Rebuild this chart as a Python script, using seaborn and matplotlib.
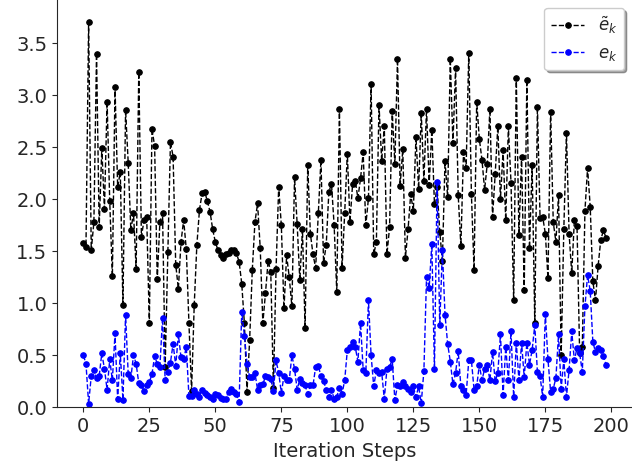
import numpy as np
import pandas as pd
import matplotlib
matplotlib.use("Agg")
import matplotlib.pyplot as plt
import seaborn as sns

# values (one point per iteration step)
e_tilde = [
    1.58, 1.54, 3.70, 1.51, 1.78, 3.40, 1.73, 2.49, 1.91, 2.94,
    1.98, 1.26, 3.08, 2.12, 2.26, 0.98, 2.86, 2.35, 1.70, 1.87,
    1.33, 3.22, 1.64, 1.80, 1.83, 0.81, 2.68, 2.51, 1.23, 1.78,
    1.87, 0.39, 1.49, 2.55, 2.41, 1.37, 1.14, 1.59, 1.80, 1.52,
    0.81, 0.16, 0.98, 1.56, 1.90, 2.06, 2.07, 1.98, 1.88, 1.71,
    1.59, 1.51, 1.46, 1.44, 1.47, 1.48, 1.51, 1.51, 1.48, 1.40,
    1.19, 0.81, 0.15, 0.65, 1.32, 1.78, 1.96, 1.53, 0.81, 1.10,
    1.41, 1.30, 0.19, 1.33, 2.12, 1.75, 0.95, 1.46, 1.25, 0.97,
    2.21, 1.76, 1.22, 1.71, 0.76, 2.33, 1.67, 1.47, 1.34, 1.87,
    2.38, 1.39, 1.56, 2.07, 2.15, 1.75, 1.11, 2.87, 1.34, 1.87,
    2.44, 1.78, 2.15, 2.18, 2.01, 2.20, 2.45, 1.75, 2.01, 3.11,
    1.47, 1.59, 2.91, 2.37, 2.70, 1.47, 1.73, 2.85, 2.34, 3.35,
    2.13, 2.48, 1.44, 1.71, 2.05, 1.89, 2.60, 2.10, 2.83, 2.18,
    2.87, 2.14, 2.67, 1.95, 2.12, 1.69, 1.41, 2.37, 2.02, 3.35,
    2.54, 3.26, 2.04, 1.55, 2.45, 2.30, 3.41, 2.05, 1.32, 2.94,
    2.58, 2.38, 2.09, 2.34, 2.87, 1.83, 2.24, 2.70, 2.00, 2.47,
    1.80, 2.70, 2.16, 1.03, 3.17, 1.66, 2.41, 1.13, 3.15, 1.53,
    2.33, 0.81, 2.89, 1.82, 1.83, 1.67, 1.24, 2.84, 1.78, 1.59,
    2.04, 0.50, 1.71, 2.64, 1.67, 1.29, 1.80, 1.74, 0.52, 0.58,
    1.89, 2.30, 1.93, 1.21, 1.03, 1.36, 1.61, 1.70, 1.63,
]

e_k = [
    0.50, 0.42, 0.035, 0.30, 0.36, 0.28, 0.30, 0.52, 0.37, 0.17,
    0.46, 0.26, 0.71, 0.08, 0.52, 0.07, 0.89, 0.32, 0.28, 0.50,
    0.42, 0.23, 0.21, 0.16, 0.21, 0.24, 0.32, 0.49, 0.42, 0.39,
    0.86, 0.26, 0.34, 0.43, 0.61, 0.40, 0.70, 0.48, 0.46, 0.58,
    0.11, 0.11, 0.17, 0.13, 0.10, 0.17, 0.14, 0.12, 0.10, 0.08,
    0.13, 0.12, 0.09, 0.08, 0.08, 0.15, 0.18, 0.15, 0.13, 0.05,
    0.92, 0.69, 0.42, 0.29, 0.29, 0.33, 0.17, 0.21, 0.22, 0.30,
    0.29, 0.27, 0.16, 0.45, 0.33, 0.14, 0.30, 0.26, 0.26, 0.50,
    0.37, 0.17, 0.27, 0.23, 0.21, 0.13, 0.21, 0.21, 0.39, 0.40,
    0.30, 0.25, 0.17, 0.10, 0.17, 0.08, 0.10, 0.19, 0.13, 0.26,
    0.55, 0.58, 0.63, 0.58, 0.44, 0.81, 0.36, 0.33, 1.03, 0.50,
    0.20, 0.36, 0.33, 0.34, 0.08, 0.37, 0.39, 0.46, 0.07, 0.21,
    0.20, 0.24, 0.20, 0.18, 0.15, 0.20, 0.10, 0.20, 0.04, 0.35,
    1.25, 1.15, 1.57, 0.37, 2.17, 0.79, 1.51, 0.89, 0.61, 0.44,
    0.22, 0.33, 0.54, 0.20, 0.17, 0.12, 0.45, 0.45, 0.17, 0.20,
    0.41, 0.26, 0.37, 0.41, 0.26, 0.53, 0.25, 0.33, 0.70, 0.12,
    0.58, 0.26, 0.73, 0.10, 0.62, 0.26, 0.62, 0.29, 0.62, 0.41,
    0.55, 0.79, 0.34, 0.30, 0.10, 0.90, 0.46, 0.15, 0.18, 0.28,
    0.70, 0.18, 0.46, 0.10, 0.36, 0.73, 0.45, 0.57, 0.52, 0.34,
    0.97, 1.27, 1.12, 0.63, 0.53, 0.57, 0.55, 0.49, 0.41,
]

steps = np.arange(len(e_tilde))
df = pd.DataFrame({"step": steps, "e_tilde": e_tilde, "e_k": e_k})

sns.set_style("ticks")
plt.rcParams["font.family"] = ["DejaVu Sans"]

fig = plt.figure(figsize=(6.32, 4.73), dpi=100)
ax = fig.add_axes([0.0905, 0.1389, 0.9098, 0.862])

line_kw = dict(linestyle="--", linewidth=1.0, marker="o", markersize=4)
sns.lineplot(data=df, x="step", y="e_tilde", ax=ax, color="k",
             markeredgecolor="k", label=r"$\tilde{e}_k$", **line_kw)
sns.lineplot(data=df, x="step", y="e_k", ax=ax, color="b",
             markeredgecolor="b", label=r"$e_k$", **line_kw)

ax.set_ylim(0, 3.92)
ax.set_xticks([0, 25, 50, 75, 100, 125, 150, 175, 200])
ax.set_yticks([0.0, 0.5, 1.0, 1.5, 2.0, 2.5, 3.0, 3.5])
ax.tick_params(labelsize=14)
ax.set_xlabel("Iteration Steps", fontsize=14)
ax.set_ylabel("")
# the reference is cropped at the top and right edges
ax.spines["top"].set_visible(False)
ax.spines["right"].set_visible(False)
ax.legend(loc="upper right", fontsize=12, shadow=True, fancybox=True)

fig.savefig("out.png", dpi=100)
